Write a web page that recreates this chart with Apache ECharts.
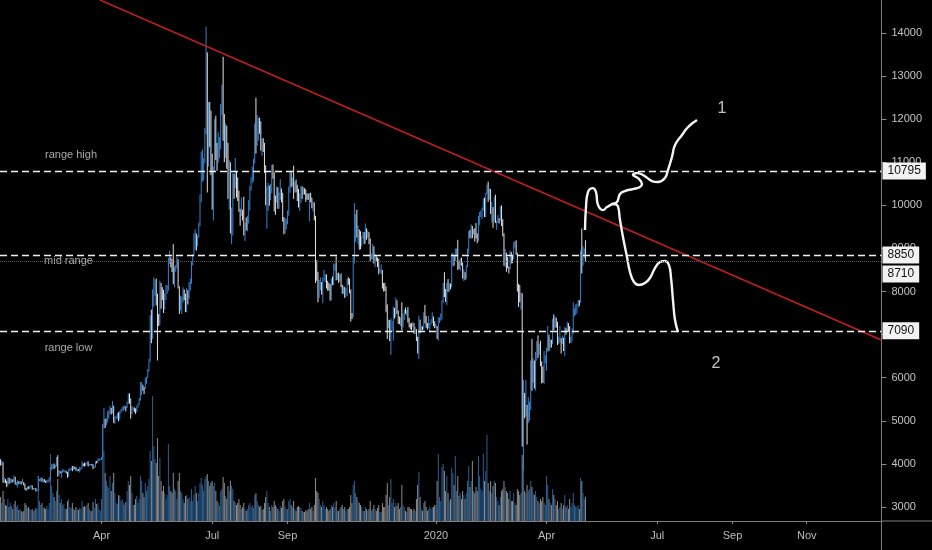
<!DOCTYPE html>
<html><head><meta charset="utf-8">
<script src="https://cdn.jsdelivr.net/npm/echarts@6/dist/echarts.min.js"></script>
<style>html,body{margin:0;padding:0;background:#000;}#c{width:932px;height:550px;}</style>
</head><body><div id="c"></div>
<script>
// ---- daily candles: [open, high, low, close] ----
const c2019_01 = [[4050,4110,3960,3990],[3990,4070,3970,4010],[4010,4040,3560,3620],[3620,3680,3560,3620],[3620,3650,3550,3600],[3600,3610,3460,3500],[3500,3680,3490,3650],[3650,3680,3540,3560],[3560,3660,3550,3610],[3610,3650,3560,3630],[3630,3640,3570,3590],[3590,3730,3580,3680],[3680,3700,3520,3540],[3540,3580,3500,3550],[3550,3620,3450,3580],[3580,3600,3530,3550],[3550,3600,3530,3580],[3580,3590,3520,3570],[3570,3650,3560,3570],[3570,3580,3500,3540],[3540,3540,3400,3430],[3430,3440,3380,3400],[3400,3480,3390,3460],[3460,3480,3420,3440]];
const c2019_02 = [[3440,3490,3410,3470],[3470,3510,3450,3490],[3490,3500,3400,3420],[3420,3440,3400,3420],[3420,3440,3410,3430],[3430,3440,3360,3380],[3380,3400,3370,3380],[3380,3720,3360,3630],[3630,3650,3600,3630],[3630,3680,3590,3670],[3670,3680,3590,3600],[3600,3640,3560,3610],[3610,3650,3580,3590],[3590,3610,3560,3570],[3570,3630,3560,3580],[3580,3640,3570,3600],[3600,3690,3580,3650],[3650,3930,3640,3880],[3880,4000,3860,3900],[3900,3990,3880,3970],[3970,4010,3880,3920],[3920,3980,3910,3960],[3960,4160,3940,4110],[4110,4200,3700,3740],[3740,3860,3730,3820],[3820,3830,3780,3800],[3800,3840,3680,3810],[3810,3880,3790,3820]];
const c2019_03 = [[3820,3870,3810,3830],[3830,3850,3800,3830],[3830,3840,3780,3800],[3800,3810,3680,3710],[3710,3880,3700,3860],[3860,3900,3830,3870],[3870,3910,3860,3880],[3880,3950,3830,3860],[3860,3950,3860,3930],[3930,3940,3880,3910],[3910,3920,3840,3860],[3860,3890,3820,3870],[3870,3880,3840,3860],[3860,3930,3800,3860],[3860,3920,3850,3900],[3900,4060,3890,4000],[4000,4010,3950,3970],[3970,4030,3940,3960],[3960,4020,3950,4000],[4000,4060,3980,4030],[4030,4060,3940,3970],[3970,4000,3960,3980],[3980,4000,3970,3990],[3990,4000,3960,3980],[3980,3990,3880,3910],[3910,3940,3900,3930],[3930,4060,3920,4060],[4060,4070,4010,4040],[4040,4130,4030,4100],[4100,4130,4070,4110],[4110,4120,4090,4110]];
const c2019_04 = [[4110,4160,4090,4140],[4140,4930,4140,4900],[4900,5300,4830,4970],[4970,5050,4830,4910],[4910,5060,4900,5030],[5030,5220,4960,5060],[5060,5250,5050,5200],[5200,5350,5150,5290],[5290,5300,5150,5200],[5200,5460,5170,5330],[5330,5350,4950,5050],[5050,5100,4930,5070],[5070,5120,5040,5080],[5080,5180,5050,5160],[5160,5200,4990,5040],[5040,5230,5030,5200],[5200,5270,5180,5240],[5240,5320,5230,5280],[5280,5350,5230,5290],[5290,5350,5270,5330],[5330,5340,5220,5310],[5310,5450,5300,5400],[5400,5630,5390,5520],[5520,5640,5400,5440],[5440,5520,5050,5200],[5200,5340,5150,5280],[5280,5320,5240,5290],[5290,5310,5200,5280],[5280,5290,5160,5210],[5210,5350,5200,5320]];
const c2019_05 = [[5320,5400,5310,5380],[5380,5530,5370,5480],[5480,5900,5470,5770],[5770,5900,5600,5830],[5830,5840,5700,5750],[5750,5780,5620,5740],[5740,6000,5740,5940],[5940,6020,5860,6000],[6000,6200,5990,6170],[6170,6440,6140,6370],[6370,7450,6370,7250],[7250,7580,6800,6990],[6990,8050,6900,7830],[7830,8330,7650,7990],[7990,8280,7900,8200],[8200,8300,7680,7880],[7880,7950,6400,7350],[7350,7480,7200,7260],[7260,8250,7230,8190],[8190,8200,7600,7980],[7980,8100,7800,7960],[7960,8040,7500,7640],[7640,7960,7580,7880],[7880,8150,7800,7990],[7990,8150,7950,8050],[8050,8780,8020,8740],[8740,8950,8640,8780],[8780,8800,8560,8720],[8720,8750,8450,8660],[8660,9100,8170,8270],[8270,8580,8100,8550]];
const c2019_06 = [[8550,8620,8460,8560],[8560,8810,8540,8740],[8740,8750,8070,8110],[8110,8120,7480,7680],[7680,7900,7560,7800],[7800,7880,7480,7800],[7800,8100,7750,8000],[8000,8050,7800,7930],[7930,7950,7520,7630],[7630,8080,7520,8020],[8020,8030,7700,7920],[7920,8220,7830,8170],[8170,8300,8020,8230],[8230,8700,8180,8690],[8690,8870,8600,8840],[8840,9350,8820,8980],[8980,9450,8970,9320],[9320,9350,8950,9080],[9080,9300,9050,9270],[9270,9600,9250,9530],[9530,10250,9520,10210],[10210,11250,10080,10700],[10700,11300,10550,10860],[10860,11100,10580,11010],[11010,11800,10980,11760],[11760,14150,11650,12950],[12950,13550,10300,11160],[11160,12400,10900,12380],[12380,12400,11350,11880],[11880,12200,10700,10780]];
const c2019_07 = [[10780,11200,9900,10590],[10590,10900,9650,10830],[10830,12000,10800,11980],[11980,12080,11050,11150],[11150,11450,10800,11000],[11000,11700,10990,11230],[11230,11580,11100,11450],[11450,12350,11300,12300],[12300,12800,12100,12570],[12570,13450,11500,12100],[12100,12120,11000,11350],[11350,11900,11100,11800],[11800,11850,10850,11380],[11380,11450,10150,10200],[10200,11050,9900,10850],[10850,11000,9350,9430],[9430,9950,9100,9680],[9680,10750,9300,10640],[10640,10730,10150,10530],[10530,11100,10400,10760],[10760,10800,10180,10590],[10590,10650,10100,10330],[10330,10340,9850,9900],[9900,9920,9530,9780],[9780,10180,9750,9880],[9880,9900,9650,9850],[9850,10200,9300,9470],[9470,9600,9170,9530],[9530,9720,9420,9520],[9520,9760,9400,9590],[9590,10120,9580,10090]];
const c2019_08 = [[10090,10450,9880,10400],[10400,10650,10340,10530],[10530,10900,10520,10820],[10820,11080,10560,10980],[10980,11900,10970,11800],[11800,12500,11200,11470],[11470,12100,11380,11960],[11960,12030,11500,11960],[11960,12040,11660,11860],[11860,11950,11270,11290],[11290,11550,11150,11550],[11550,11560,11240,11390],[11390,11450,10750,10860],[10860,10930,10000,10020],[10020,10440,9460,10310],[10310,10520,9870,10350],[10350,10460,9990,10220],[10220,10500,10120,10320],[10320,10940,10280,10920],[10920,10950,10620,10760],[10760,10770,9860,10130],[10130,10230,9780,10110],[10110,10440,10060,10400],[10400,10420,9920,10140],[10140,10300,9920,10140],[10140,10610,10130,10360],[10360,10390,10070,10170],[10170,10290,9620,9720],[9720,9730,9330,9490],[9490,9700,9350,9590],[9590,9680,9440,9600]];
const c2019_09 = [[9600,9880,9560,9770],[9770,10440,9760,10380],[10380,10800,10290,10620],[10620,10770,10420,10580],[10580,10640,10440,10580],[10580,10920,10150,10300],[10300,10550,10300,10480],[10480,10600,10300,10400],[10400,10480,10100,10330],[10330,10380,9950,10100],[10100,10280,9870,10150],[10150,10450,10060,10420],[10420,10440,10150,10360],[10360,10420,10250,10360],[10360,10400,10250,10300],[10300,10370,10080,10250],[10250,10280,10130,10190],[10190,10270,10130,10160],[10160,10290,9630,10280],[10280,10290,10070,10170],[10170,10180,9930,9980],[9980,10090,9860,10050],[10050,10070,9650,9700],[9700,9760,8200,8530],[8530,8730,8250,8430],[8430,8460,7750,8070],[8070,8270,7850,8180],[8180,8330,8030,8200],[8200,8220,7930,8050],[8050,8330,7730,8300]];
const c2019_10 = [[8300,8500,8240,8340],[8340,8400,8210,8380],[8380,8400,8070,8240],[8240,8250,8020,8160],[8160,8200,8020,8150],[8150,8170,7790,7870],[7870,8300,7790,8220],[8220,8350,8150,8200],[8200,8650,8140,8590],[8590,8650,8480,8590],[8590,8820,8260,8270],[8270,8430,8270,8330],[8330,8440,8200,8300],[8300,8400,8230,8370],[8370,8420,8100,8160],[8160,8160,7950,7990],[7990,8120,7940,8080],[8080,8110,7850,7950],[7950,8080,7880,7960],[7960,8300,7890,8230],[8230,8330,8160,8210],[8210,8300,7960,8030],[8030,8050,7300,7470],[7470,7500,7360,7430],[7430,8800,7400,8660],[8660,10050,8650,9250],[9250,9800,9150,9550],[9550,9900,9250,9250],[9250,9530,9100,9430],[9430,9440,8970,9180],[9180,9400,8980,9150]];
const c2019_11 = [[9150,9280,9050,9250],[9250,9380,9230,9300],[9300,9380,9100,9200],[9200,9580,9110,9400],[9400,9470,9200,9300],[9300,9420,9250,9340],[9340,9380,9100,9200],[9200,9230,8700,8770],[8770,8880,8750,8810],[8810,9110,8740,9040],[9040,9050,8650,8730],[8730,8880,8570,8800],[8800,8820,8700,8760],[8760,8790,8570,8640],[8640,8760,8400,8470],[8470,8530,8440,8500],[8500,8630,8400,8500],[8500,8500,8070,8170],[8170,8200,8000,8120],[8120,8200,8010,8080],[8080,8120,7520,7610],[7610,7700,6900,7280],[7280,7350,7150,7320],[7320,7340,6850,6900],[6900,7380,6530,7130],[7130,7320,7070,7160],[7160,7650,6860,7520],[7520,7620,7370,7420],[7420,7860,7410,7750],[7750,7800,7480,7550]];
const c2019_12 = [[7550,7560,7250,7400],[7400,7420,7240,7300],[7300,7400,7200,7300],[7300,7750,7100,7200],[7200,7490,7170,7400],[7400,7580,7340,7530],[7530,7630,7480,7500],[7500,7570,7440,7520],[7520,7640,7280,7340],[7340,7390,7170,7220],[7220,7260,7130,7200],[7200,7270,7100,7190],[7190,7300,7180,7250],[7250,7270,7020,7070],[7070,7180,7020,7110],[7110,7130,6850,6880],[6880,6950,6560,6610],[6610,7440,6430,7280],[7280,7350,7030,7150],[7150,7210,7100,7190],[7190,7190,7100,7140],[7140,7520,7120,7510],[7510,7690,7260,7320],[7320,7430,7160,7250],[7250,7270,7120,7200],[7200,7440,7150,7200],[7200,7270,7060,7250],[7250,7360,7230,7300],[7300,7520,7270,7390],[7390,7420,7200,7220],[7220,7310,7150,7170]];
const c2020_01 = [[7170,7250,7150,7180],[7180,7200,6900,6950],[6950,7400,6860,7340],[7340,7400,7270,7350],[7350,7490,7320,7360],[7360,7800,7350,7760],[7760,8200,7730,8160],[8160,8450,7870,8050],[8050,8060,7760,7820],[7820,8200,7690,8190],[8190,8290,7990,8030],[8030,8190,8000,8180],[8180,8190,8050,8110],[8110,8880,8100,8810],[8810,8900,8580,8820],[8820,8830,8600,8720],[8720,9000,8700,8900],[8900,9000,8810,8920],[8920,9200,8500,8700],[8700,8720,8520,8630],[8630,8770,8480,8730],[8730,8790,8600,8660],[8660,8670,8300,8390],[8390,8520,8240,8440],[8440,8450,8270,8340],[8340,8610,8290,8600],[8600,9000,8570,8900],[8900,9400,8880,9390],[9390,9430,9240,9300],[9300,9560,9220,9500],[9500,9520,9240,9350]];
const c2020_02 = [[9350,9450,9320,9380],[9380,9470,9160,9330],[9330,9590,9230,9290],[9290,9350,9120,9180],[9180,9760,9170,9620],[9620,9850,9540,9760],[9760,9880,9730,9800],[9800,9950,9680,9900],[9900,10160,9880,10160],[10160,10180,9730,9850],[9850,10290,9730,10260],[10260,10480,10260,10350],[10350,10550,10080,10240],[10240,10390,10130,10370],[10370,10380,9800,9900],[9900,10080,9600,9930],[9930,9960,9480,9700],[9700,10200,9620,10180],[10180,10250,9590,9600],[9600,9650,9430,9610],[9610,9780,9590,9690],[9690,9700,9580,9660],[9660,9980,9650,9960],[9960,10000,9520,9660],[9660,9680,9280,9310],[9310,9350,8600,8780],[8780,8990,8570,8810],[8810,8900,8460,8710],[8710,8800,8540,8540]];
const c2020_03 = [[8540,8580,8420,8530],[8530,8950,8510,8910],[8910,8920,8650,8760],[8760,8850,8660,8750],[8750,9150,8750,9070],[9070,9170,9000,9150],[9150,9190,8850,8900],[8900,8900,8000,8030],[8030,8180,7640,7930],[7930,8150,7750,7900],[7900,7980,7580,7940],[7940,7960,4400,4970],[4970,5950,3850,5560],[5560,5650,5060,5170],[5170,5950,5100,5360],[5360,5370,4450,5030],[5030,5550,4950,5330],[5330,5440,5000,5410],[5410,6400,5250,6190],[6190,6900,5700,6180],[6180,6450,5880,6190],[6190,6400,5750,5830],[5830,6600,5700,6480],[6480,6850,6400,6760],[6760,6980,6460,6690],[6690,6790,6530,6750],[6750,6860,6270,6370],[6370,6380,5870,6240],[6240,6260,5880,5880],[5880,6620,5860,6400],[6400,6520,6330,6420]];
const c2020_04 = [[6420,6700,6160,6650],[6650,7200,6600,6800],[6800,7000,6620,6740],[6740,6900,6680,6860],[6860,6880,6700,6780],[6780,7370,6780,7340],[7340,7470,7100,7200],[7200,7420,7160,7370],[7370,7390,7160,7290],[7290,7300,6760,6870],[6870,6950,6780,6890],[6890,7200,6810,6910],[6910,6920,6560,6850],[6850,6980,6780,6850],[6850,6930,6620,6630],[6630,7180,6500,7120],[7120,7150,7000,7100],[7100,7300,7080,7260],[7260,7270,7060,7140],[7140,7200,6800,6850],[6850,6950,6800,6860],[6860,7150,6840,7130],[7130,7750,7020,7500],[7500,7610,7430,7540],[7540,7700,7460,7570],[7570,7720,7490,7700],[7700,7800,7630,7790],[7790,7800,7660,7760],[7760,8950,7740,8780],[8780,9460,8420,8620]];
const c2020_05 = [[8620,9050,8600,8830],[8830,9000,8770,8970],[8970,9190,8700,8890]];

// ---- daily volume (relative units) ----
const v2019_01 = [24,18,30,22,16,15,22,14,18,15,12,17,20,14,16,11,12,10,9,10,18,16,13,14];
const v2019_02 = [12,11,12,10,11,13,12,45,20,16,18,14,13,12,15,12,18,67,35,28,24,20,30,42,26,18,22,16];
const v2019_03 = [17,12,12,20,22,14,13,18,12,11,14,12,11,13,12,20,14,15,14,16,18,12,10,10,19,13,22,17,18,12,10];
const v2019_04 = [22,95,70,48,40,35,33,45,30,38,48,28,18,17,26,25,20,22,18,16,19,30,40,36,45,28,16,16,22,25];
const v2019_05 = [18,22,45,40,28,24,38,30,35,42,70,60,125,75,62,58,83,45,63,40,30,35,28,22,26,77,35,30,28,48,32];
const v2019_06 = [30,22,40,48,30,28,22,18,25,26,22,24,20,32,20,26,35,28,20,28,38,43,36,30,42,45,47,40,35,38];
const v2019_07 = [40,35,38,30,20,18,15,30,32,44,38,25,22,35,30,40,35,32,20,18,16,18,22,16,12,14,18,12,10,12,16];
const v2019_08 = [18,14,16,13,26,28,20,16,14,15,11,12,18,24,30,18,14,10,16,14,20,16,14,12,10,15,13,20,22,14,12];
const v2019_09 = [12,20,22,16,14,20,12,10,14,15,14,13,10,9,9,11,10,12,18,12,14,10,16,43,30,28,22,16,14,20];
const v2019_10 = [16,12,14,12,10,12,16,14,18,14,20,10,10,12,14,16,12,14,10,12,12,14,26,18,36,40,28,24,20,18,16];
const v2019_11 = [14,10,10,14,12,10,12,20,10,12,16,12,10,13,16,9,9,18,14,14,26,38,16,24,42,18,22,14,18,15];
const v2019_12 = [18,12,14,36,16,14,10,9,14,14,12,12,10,12,10,22,36,49,24,12,10,18,20,14,10,12,14,12,14,14,16];
const v2020_01 = [16,40,67,24,20,54,57,50,30,45,28,20,22,53,48,36,65,30,45,25,28,22,30,26,22,28,40,55,34,40,60];
const v2020_02 = [30,28,34,30,65,45,32,30,67,40,50,86,38,30,40,28,35,40,38,24,20,16,24,30,32,40,34,30,28];
const v2020_03 = [22,30,20,20,28,18,16,32,30,26,28,66,62,30,28,36,30,32,40,34,28,26,30,24,20,18,22,20,24,18,16];
const v2020_04 = [45,36,22,18,16,32,26,22,16,20,12,14,18,12,16,26,14,16,12,22,14,18,28,16,14,14,16,12,43,40];
const v2020_05 = [28,22,24];

// ---- axis ----
const axisStartDate = [2019, 0, 8];
const axisDays = 725;
const xTickDates = ['2019-04-01','2019-07-01','2019-09-01','2020-01-01','2020-04-01','2020-07-01','2020-09-01','2020-11-01'];
const xTickLabels = ['Apr','Jul','Sep','2020','Apr','Jul','Sep','Nov'];
const yTickValues = [3000,4000,5000,6000,7000,8000,9000,10000,11000,12000,13000,14000];
const priceMin = 2675, priceMax = 14766;

// ---- levels ----
const rangeHigh = 10795, midRange = 8850, lastPrice = 8710, rangeLow = 7090;

// ---- drawings ----
const trendLine = [['2019-03-30 18:00', 14766], ['2021-01-01 12:00', 6875]];
const scenarioUp = [['2020-05-02 15:00',9430],['2020-05-03 11:00',9960],['2020-05-05 02:00',10310],['2020-05-09 05:00',10400],['2020-05-11 16:00',10310],['2020-05-13 08:00',10010],['2020-05-17 10:00',9890],['2020-05-20 17:00',9960],['2020-05-24 20:00',10030],['2020-05-28 23:00',10077],['2020-05-31 10:00',10263],['2020-06-04 12:00',10333],['2020-06-11 02:00',10379],['2020-06-16 21:00',10426],['2020-06-18 12:00',10495],['2020-06-15 05:00',10635],['2020-06-11 02:00',10704],['2020-06-14 09:00',10751],['2020-06-19 08:00',10704],['2020-06-26 18:00',10565],['2020-07-01 16:00',10542],['2020-07-07 10:00',10635],['2020-07-09 21:00',10820],['2020-07-13 04:00',11122],['2020-07-15 16:00',11400],['2020-07-21 10:00',11633],['2020-07-26 08:00',11818],['2020-08-02 18:00',11981]];
const scenarioDown = [['2020-05-24 20:00',10030],['2020-05-28 23:00',10008],['2020-05-31 10:00',9660],['2020-06-02 21:00',9265],['2020-06-06 04:00',8801],['2020-06-08 15:00',8453],['2020-06-11 22:00',8221],['2020-06-16 01:00',8151],['2020-06-20 23:00',8197],['2020-06-25 02:00',8314],['2020-06-29 05:00',8546],['2020-07-03 07:00',8685],['2020-07-07 10:00',8708],['2020-07-10 17:00',8615],['2020-07-12 08:00',8337],['2020-07-14 00:00',7803],['2020-07-15 16:00',7339],['2020-07-18 03:00',7060]];
const noteTexts = ['range high','mid range','range low','1','2'];
const notePoints = [['2019-03-06 22:00',11168],['2019-03-04 20:00',8708],['2019-03-04 20:00',6689],['2020-08-23 07:00',12236],['2020-08-18 09:00',6318]];

// ---- build ----
const UP = '#3484d3', DOWN = '#e2e2e2', VOL_UP = '#2b5f92', VOL_DOWN = '#8e8e8e';
const FONT = 'Liberation Sans';
const GRID = {left: 0, right: 50.5, top: 0, bottom: 29};
const pad = n => String(n).padStart(2, '0');
const fmt = d => d.getFullYear() + '-' + pad(d.getMonth() + 1) + '-' + pad(d.getDate());
const categories = [];
for (let i = 0; i < axisDays; i++) categories.push(fmt(new Date(axisStartDate[0], axisStartDate[1], axisStartDate[2] + i)));
const months = [
  [2019,1,8,c2019_01,v2019_01],[2019,2,1,c2019_02,v2019_02],[2019,3,1,c2019_03,v2019_03],[2019,4,1,c2019_04,v2019_04],
  [2019,5,1,c2019_05,v2019_05],[2019,6,1,c2019_06,v2019_06],[2019,7,1,c2019_07,v2019_07],[2019,8,1,c2019_08,v2019_08],
  [2019,9,1,c2019_09,v2019_09],[2019,10,1,c2019_10,v2019_10],[2019,11,1,c2019_11,v2019_11],[2019,12,1,c2019_12,v2019_12],
  [2020,1,1,c2020_01,v2020_01],[2020,2,1,c2020_02,v2020_02],[2020,3,1,c2020_03,v2020_03],[2020,4,1,c2020_04,v2020_04],
  [2020,5,1,c2020_05,v2020_05]
];
const byDate = {};
months.forEach(([y, m, first, cs, vs]) => {
  cs.forEach((c, i) => { byDate[fmt(new Date(y, m - 1, first + i))] = {c: c, v: vs[i]}; });
});
const candleData = categories.map(k => {
  const e = byDate[k];
  return e ? [e.c[0], e.c[3], e.c[2], e.c[1]] : ['-', '-', '-', '-'];
});
const volData = categories.map(k => {
  const e = byDate[k];
  if (!e) return '-';
  return {value: e.v, itemStyle: {color: e.c[3] >= e.c[0] ? VOL_UP : VOL_DOWN}};
});
const isTick = (idx, val) => xTickDates.indexOf(val) >= 0;

const levelLabel = {show: true, position: 'end', distance: 1, color: '#111', backgroundColor: '#f2f2f2',
  padding: [3, 5, 2, 5], fontSize: 12, fontFamily: FONT};
const dashStyle = {type: [7, 4], color: '#f0f0f0', width: 1.4};

const chart = echarts.init(document.getElementById('c'), null, {renderer: 'canvas'});
chart.setOption({
  backgroundColor: '#000',
  animation: false,
  grid: GRID,
  xAxis: [{
    type: 'category', data: categories, boundaryGap: true,
    axisLine: {lineStyle: {color: '#7d7d7d', width: 1}},
    axisTick: {show: true, interval: isTick, alignWithLabel: true, length: 3, lineStyle: {color: '#8a8a8a'}},
    axisLabel: {interval: isTick, color: '#bcbcbc', fontSize: 11, fontFamily: FONT, margin: 9,
      formatter: v => xTickLabels[xTickDates.indexOf(v)] || ''},
    splitLine: {show: false}
  }, {
    type: 'time', show: false, min: '2019-01-07 12:00', max: '2021-01-01 12:00'
  }],
  yAxis: [{
    type: 'value', position: 'right', min: priceMin, max: priceMax, scale: true,
    axisLine: {show: true, lineStyle: {color: '#7d7d7d', width: 1}},
    axisTick: {show: true, length: 5, customValues: yTickValues, lineStyle: {color: '#8a8a8a'}},
    axisLabel: {customValues: yTickValues, color: '#c4c4c4', fontSize: 11, fontFamily: FONT, margin: 10,
      formatter: v => String(v)},
    splitLine: {show: false}
  }, {
    type: 'value', min: 0, max: 521, show: false, splitLine: {show: false}
  }],
  graphic: [
    {type: 'line', shape: {x1: 932 - GRID.right, y1: 550 - GRID.bottom, x2: 932, y2: 550 - GRID.bottom}, style: {stroke: '#7d7d7d', lineWidth: 1}, silent: true},
    {type: 'line', shape: {x1: 932 - GRID.right, y1: 550 - GRID.bottom, x2: 932 - GRID.right, y2: 550}, style: {stroke: '#7d7d7d', lineWidth: 1}, silent: true}
  ],
  series: [{
    type: 'bar', name: 'volume', xAxisIndex: 0, yAxisIndex: 1, data: volData,
    barWidth: 0.75, z: 1, silent: true
  }, {
    type: 'candlestick', name: 'price', xAxisIndex: 0, yAxisIndex: 0, data: candleData,
    barWidth: 1, z: 3, silent: true,
    itemStyle: {color: UP, color0: DOWN, borderColor: UP, borderColor0: DOWN, borderWidth: 1},
    markLine: {
      symbol: ['none', 'none'], silent: true, animation: false, z: 10,
      label: levelLabel,
      data: [
        {yAxis: rangeHigh, lineStyle: dashStyle, label: {formatter: String(rangeHigh)}},
        {yAxis: lastPrice, lineStyle: {type: 'dotted', color: '#5a5a5a', width: 1}, label: {formatter: String(lastPrice), offset: [0, 13]}},
        {yAxis: midRange, lineStyle: dashStyle, label: {formatter: String(midRange)}},
        {yAxis: rangeLow, lineStyle: dashStyle, label: {formatter: String(rangeLow)}}
      ]
    }
  }, {
    type: 'line', name: 'trend', xAxisIndex: 1, yAxisIndex: 0, data: trendLine,
    symbol: 'none', lineStyle: {color: '#c41f1f', width: 1.5}, z: 5, silent: true
  }, {
    type: 'line', name: 'scenario 1', xAxisIndex: 1, yAxisIndex: 0, data: scenarioUp,
    symbol: 'none', smooth: 0.45, lineStyle: {color: '#f4f4f4', width: 2.4}, z: 6, silent: true
  }, {
    type: 'line', name: 'scenario 2', xAxisIndex: 1, yAxisIndex: 0, data: scenarioDown,
    symbol: 'none', smooth: 0.45, lineStyle: {color: '#f4f4f4', width: 2.4}, z: 6, silent: true
  }, {
    type: 'scatter', name: 'notes', xAxisIndex: 1, yAxisIndex: 0, symbolSize: 1, z: 7, silent: true,
    itemStyle: {color: 'rgba(0,0,0,0)'},
    data: notePoints.map((p, i) => ({name: noteTexts[i], value: p,
      label: {show: true, position: 'inside', formatter: noteTexts[i], fontFamily: FONT,
        fontSize: noteTexts[i].length > 1 ? 11 : 16, color: noteTexts[i].length > 1 ? '#d2d2d2' : '#f0f0f0'}}))
  }]
});
</script>
</body></html>
